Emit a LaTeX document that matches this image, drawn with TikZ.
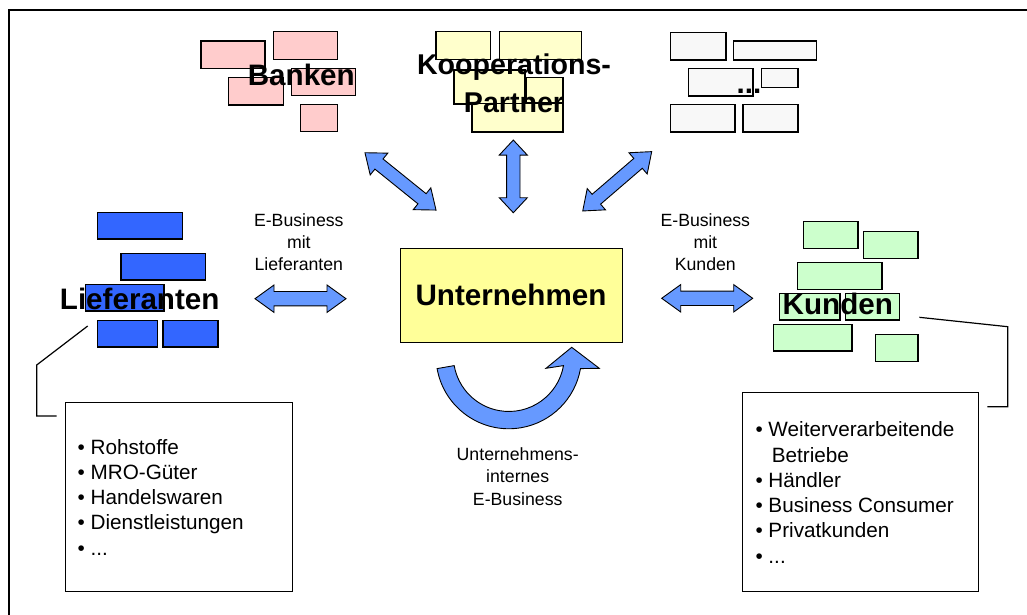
\documentclass[tikz,border=0pt]{standalone}
\usepackage{fontspec}
\setmainfont{Liberation Sans}
\definecolor{pinkc}{HTML}{FFCCCC}
\definecolor{yellowc}{HTML}{FFFFCC}
\definecolor{greyc}{HTML}{F8F8F8}
\definecolor{bluec}{HTML}{3366FF}
\definecolor{greenc}{HTML}{CCFFCC}
\definecolor{unterc}{HTML}{FFFF99}
\definecolor{arrowc}{HTML}{6699FF}
\newcommand\dblarrow[7]{%
  \begin{scope}[shift={(#1,#2)},rotate=#3]
    \draw[blockarrow] ({-#4/2},0) -- ({-#4/2+#5},#6) -- ({-#4/2+#5},#7) -- ({#4/2-#5},#7) -- ({#4/2-#5},#6) -- ({#4/2},0)
      -- ({#4/2-#5},-#6) -- ({#4/2-#5},-#7) -- ({-#4/2+#5},-#7) -- ({-#4/2+#5},-#6) -- cycle;
  \end{scope}}
\begin{document}
\begin{tikzpicture}[x=1pt,y=1pt,
  brick/.style={draw=black,line width=1.3pt},
  blockarrow/.style={draw=black,line width=0.9pt,fill=arrowc,line join=miter},
  biglabel/.style={inner sep=0pt,anchor=base,font=\fontsize{29.6}{36}\selectfont\bfseries},
  smalllabel/.style={inner sep=0pt,anchor=base,font=\fontsize{17.7}{21.7}\selectfont},
  listtext/.style={inner sep=0pt,anchor=base west,font=\fontsize{20.7}{25.3}\selectfont},
  listbox/.style={draw=black,line width=1pt,fill=white,inner sep=0pt},
  callout/.style={draw=black,line width=1.2pt}]
\useasboundingbox (0,0) rectangle (1027,-615);
\fill[white] (0,0) rectangle (1027,-615);
% outer frame
\draw[line width=2pt] (9,-616) -- (9,-10) -- (1028,-10);

% Banken bricks
\draw[brick,fill=pinkc] (201,-41) rectangle (265,-68.3);
\draw[brick,fill=pinkc] (273.3,-31.7) rectangle (337.7,-59.3);
\draw[brick,fill=pinkc] (228.3,-77.3) rectangle (283.3,-105);
\draw[brick,fill=pinkc] (291.7,-68.3) rectangle (355.7,-95.7);
\draw[brick,fill=pinkc] (300.7,-104.3) rectangle (337.3,-131.7);
\node[biglabel] (banken) at (301.3,-85.5) {Banken};

% Kooperations-Partner bricks
\draw[brick,fill=yellowc] (436,-31.7) rectangle (490.7,-59.3);
\draw[brick,fill=yellowc] (499.3,-31.7) rectangle (581.7,-59.3);
\draw[brick,fill=yellowc] (454,-70) rectangle (525,-104);
\draw[brick,fill=yellowc] (526.7,-77.3) rectangle (563,-103);
\draw[brick,fill=yellowc] (472,-103.5) rectangle (563,-132);
\node[inner sep=0pt,anchor=base,font=\fontsize{28.6}{37.3}\selectfont\bfseries] (koop) at (514,-75)
  {\begin{tabular}[t]{@{}c@{}}Kooperations-\\Partner\end{tabular}};

% grey bricks
\draw[brick,fill=greyc] (670.7,-32.3) rectangle (726,-60);
\draw[brick,fill=greyc] (733.7,-41) rectangle (816.3,-60);
\draw[brick,fill=greyc] (688.7,-68.3) rectangle (753,-96);
\draw[brick,fill=greyc] (761.3,-68.3) rectangle (798,-87.3);
\draw[brick,fill=greyc] (670.7,-104.3) rectangle (735,-132);
\draw[brick,fill=greyc] (743,-104.3) rectangle (798,-132);
\node[biglabel] (dots) at (749,-94) {...};

% Lieferanten bricks
\draw[brick,fill=bluec] (97.3,-212.3) rectangle (182.3,-239);
\draw[brick,fill=bluec] (121,-253.3) rectangle (205.7,-280);
\draw[brick,fill=bluec] (85.3,-284.3) rectangle (164,-311);
\draw[brick,fill=bluec] (97.3,-320.7) rectangle (157.7,-347);
\draw[brick,fill=bluec] (163,-320.7) rectangle (218,-347);
\node[biglabel] (lief) at (139.7,-309.3) {Lieferanten};

% Kunden bricks
\draw[brick,fill=greenc] (803.3,-221.7) rectangle (858,-248.3);
\draw[brick,fill=greenc] (863.3,-231.7) rectangle (918,-258.3);
\draw[brick,fill=greenc] (797.7,-262.7) rectangle (882,-289.3);
\draw[brick,fill=greenc] (779.3,-293.7) rectangle (840,-320);
\draw[brick,fill=greenc] (845.3,-293.7) rectangle (899.7,-320);
\draw[brick,fill=greenc] (773.3,-324.3) rectangle (852,-351);
\draw[brick,fill=greenc] (875.3,-334.7) rectangle (918,-361.3);
\node[biglabel] (kund) at (837.8,-314) {Kunden};

% central company box
\node[draw=black,line width=1pt,fill=unterc,minimum width=222pt,minimum height=93.7pt,inner sep=0pt,
  font=\fontsize{29.6}{36}\selectfont\bfseries] (unt) at (511,-295.2) {Unternehmen};

% block arrows
\dblarrow{300.5}{-298.7}{0}{91}{19}{13.7}{7.2}
\dblarrow{707.2}{-298.3}{0}{91}{19}{13.7}{7.2}
\dblarrow{513.3}{-176.4}{90}{72.7}{15}{14}{6.7}
\dblarrow{400.5}{-181.4}{-38.9}{91.3}{18}{14}{6.5}
\dblarrow{617.2}{-181.3}{40.7}{91}{18}{14}{6.5}

% curved internal arrow
\draw[blockarrow] (437.1,-368.6) arc[start angle=190,end angle=350,radius=72.8pt]
  -- (599.3,-368.3) -- (571.7,-347.3) -- (546,-368.3) -- (563.5,-365.6)
  arc[start angle=350,end angle=190,radius=55.5pt] -- cycle;

% small labels
\node[smalllabel] (ebl) at (298.8,-226.7) {\begin{tabular}[t]{@{}c@{}}E-Business\\mit\\Lieferanten\end{tabular}};
\node[smalllabel] (ebk) at (705.3,-226.7) {\begin{tabular}[t]{@{}c@{}}E-Business\\mit\\Kunden\end{tabular}};
\node[inner sep=0pt,anchor=base,font=\fontsize{17.7}{22.5}\selectfont] (ebi) at (517.7,-460)
  {\begin{tabular}[t]{@{}c@{}}Unternehmens-\\internes\\E-Business\end{tabular}};

% callout lines
\coordinate (lc1) at (87.7,-326);
\coordinate (lc2) at (36.7,-365);
\coordinate (lc3) at (36.7,-416);
\coordinate (lc4) at (56.7,-416);
\draw[callout] (lc1) -- (lc2) -- (lc3) -- (lc4);
\coordinate (kc1) at (919.3,-317.3);
\coordinate (kc2) at (1007.7,-326.7);
\coordinate (kc3) at (1007.7,-406.7);
\coordinate (kc4) at (987.3,-406.7);
\draw[callout] (kc1) -- (kc2) -- (kc3) -- (kc4);

% list boxes
\node[listbox,minimum width=226.6pt,minimum height=189.4pt] (lbox) at (179,-497) {};
\node[listbox,minimum width=235.6pt,minimum height=199pt] (kbox) at (860.5,-492.2) {};
\node[listtext] (llist) at (77.5,-454) {\begin{tabular}[t]{@{}l@{}}• Rohstoffe\\• MRO-Güter\\• Handelswaren\\• Dienstleistungen\\• ...\end{tabular}};
\node[listtext] (klist) at (755.3,-436.7) {\begin{tabular}[t]{@{}l@{}}• Weiterverarbeitende\\\hspace*{16.4pt}Betriebe\\• Händler\\• Business Consumer\\• Privatkunden\\• ...\end{tabular}};
\end{tikzpicture}
\end{document}
